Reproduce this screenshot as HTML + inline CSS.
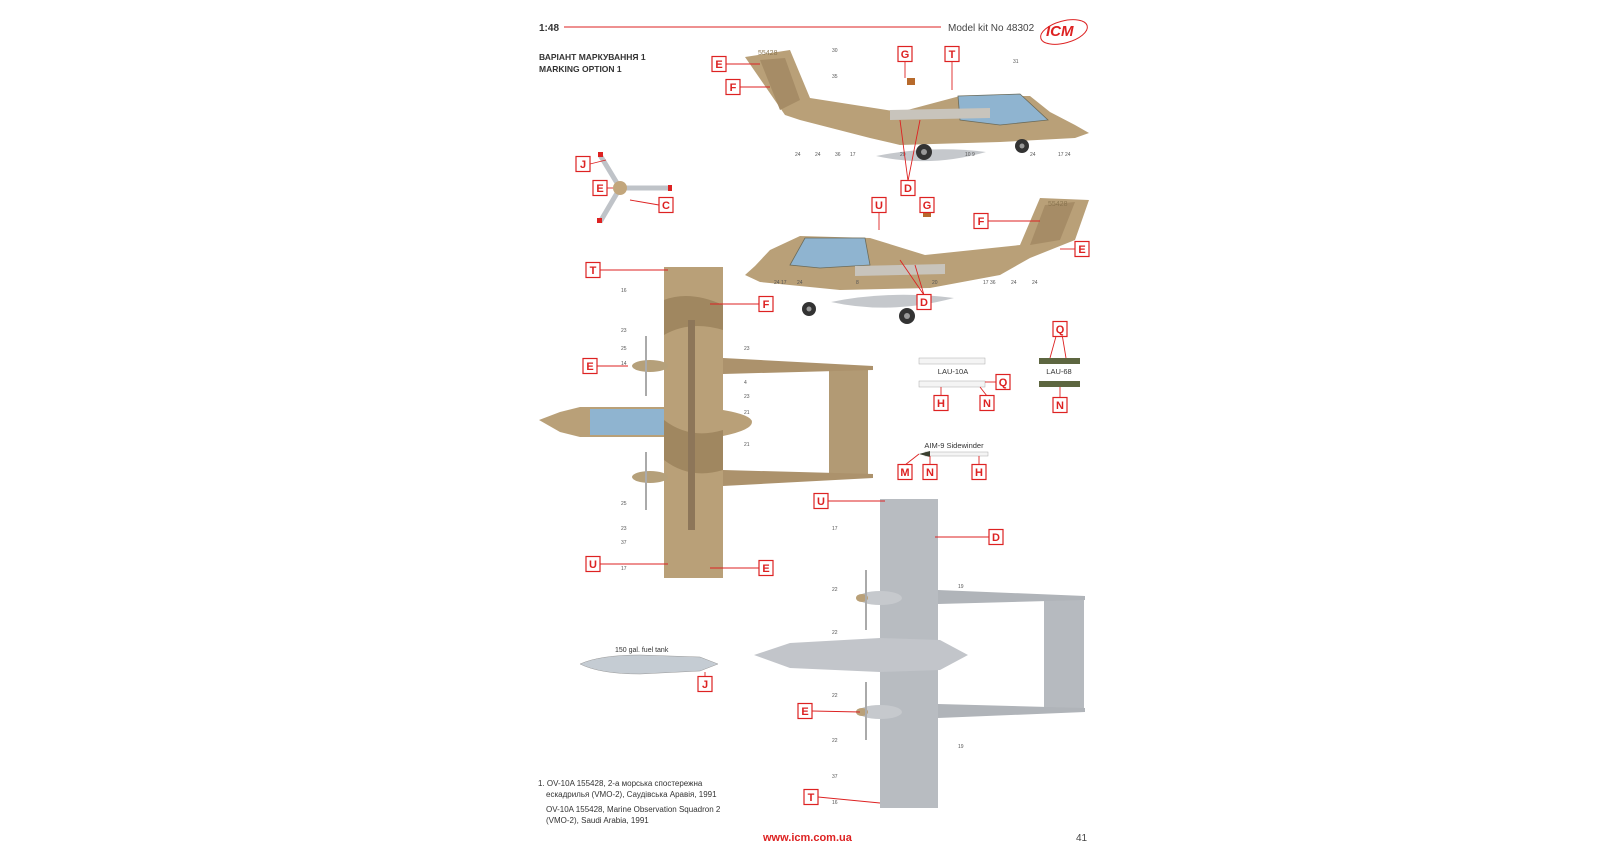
<!DOCTYPE html>
<html><head><meta charset="utf-8"><style>
html,body{margin:0;padding:0;background:#fff;}
svg{display:block;}
text{font-family:"Liberation Sans",sans-serif;}
.n{font-size:5px;fill:#555;}
.lb rect{fill:#fff;stroke:#d22;stroke-width:1.2;}
.lb text{fill:#d22;font-weight:bold;font-size:11px;text-anchor:middle;}
.ld{stroke:#d22;stroke-width:0.9;fill:none;}
</style></head><body>
<svg width="1620" height="851" viewBox="0 0 1620 851" xmlns="http://www.w3.org/2000/svg">
<!-- header -->
<text x="539" y="31" font-size="10" font-weight="bold" fill="#333">1:48</text>
<line x1="564" y1="27" x2="941" y2="27" stroke="#d22" stroke-width="1"/>
<text x="948" y="31" font-size="10" fill="#444">Model kit No 48302</text>
<ellipse cx="1064" cy="32" rx="24" ry="11" fill="none" stroke="#d22" stroke-width="1" transform="rotate(-15 1064 32)"/>
<text x="1046" y="36" font-size="15" font-weight="bold" font-style="italic" fill="#d22">ICM</text>
<text x="539" y="60" font-size="8.5" font-weight="bold" fill="#333">ВАРІАНТ МАРКУВАННЯ 1</text>
<text x="539" y="72" font-size="8.5" font-weight="bold" fill="#333">MARKING OPTION 1</text>

<!-- side view 1 (nose right) -->
<g>
<path d="M745,57 L790,50 L810,98 L900,112 L960,96 L1030,96 L1050,112 L1075,125 L1089,133 L1075,138 L1000,142 L900,145 L870,138 L800,120 L785,115 Z" fill="#b9a078"/>
<path d="M760,60 L785,58 L800,100 L780,110 Z" fill="#a68c66"/>
<path d="M958,96 L1020,94 L1048,120 L1000,125 L960,120 Z" fill="#8fb4d0" stroke="#6b6b5a" stroke-width="0.8"/>
<path d="M890,110 L990,108 L990,118 L890,120 Z" fill="#c8c4bc"/>
<path d="M876,156 Q930,145 986,152 Q930,168 876,156 Z" fill="#c5c8cc"/>
<rect x="907" y="78" width="8" height="7" fill="#b76a2c"/>
<circle cx="924" cy="152" r="8" fill="#333"/><circle cx="924" cy="152" r="3" fill="#999"/>
<circle cx="1022" cy="146" r="7" fill="#333"/><circle cx="1022" cy="146" r="2.5" fill="#999"/>
<text x="758" y="55" font-size="7" fill="#8a7550">55428</text>
</g>
<!-- side view 2 (nose left) -->
<g>
<path d="M1089,200 L1040,198 L1020,245 L925,255 L870,238 L800,236 L770,250 L755,266 L745,275 L760,282 L840,290 L930,288 L1000,275 L1030,258 L1075,240 Z" fill="#b9a078"/>
<path d="M1075,202 L1045,205 L1030,245 L1060,240 Z" fill="#a68c66"/>
<path d="M790,265 L805,238 L865,238 L870,265 L820,268 Z" fill="#8fb4d0" stroke="#6b6b5a" stroke-width="0.8"/>
<path d="M855,266 L945,264 L945,274 L855,276 Z" fill="#c8c4bc"/>
<path d="M831,302 Q890,290 954,298 Q890,315 831,302 Z" fill="#c5c8cc"/>
<rect x="923" y="210" width="8" height="7" fill="#b76a2c"/>
<circle cx="809" cy="309" r="7" fill="#333"/><circle cx="809" cy="309" r="2.5" fill="#999"/>
<circle cx="907" cy="316" r="8" fill="#333"/><circle cx="907" cy="316" r="3" fill="#999"/>
<text x="1048" y="206" font-size="7" fill="#8a7550">55428</text>
</g>
<!-- propeller -->
<g>
<line x1="620" y1="188" x2="600" y2="155" stroke="#bfc3c8" stroke-width="5"/>
<line x1="620" y1="188" x2="672" y2="188" stroke="#bfc3c8" stroke-width="5"/>
<line x1="620" y1="188" x2="600" y2="222" stroke="#bfc3c8" stroke-width="5"/>
<rect x="598" y="152" width="5" height="5" fill="#d22"/><rect x="668" y="185" width="4" height="6" fill="#d22"/><rect x="597" y="218" width="5" height="5" fill="#d22"/>
<circle cx="620" cy="188" r="7" fill="#c2a67c"/>
</g>

<!-- top view desert -->
<g>
<path d="M829,366 L868,366 L868,478 L829,478 Z" fill="#b29a74"/>
<path d="M723,358 L873,366 L873,370 L723,374 Z" fill="#ac926c"/>
<path d="M723,470 L873,474 L873,478 L723,486 Z" fill="#ac926c"/>
<rect x="664" y="267" width="59" height="311" fill="#b9a078"/>
<path d="M664,300 Q690,290 723,305 L723,330 Q690,320 664,335 Z" fill="#a08760"/>
<path d="M664,420 Q690,440 723,430 L723,470 Q690,480 664,460 Z" fill="#a08760"/>
<rect x="688" y="320" width="7" height="210" fill="#8d7659"/>
<path d="M539,420 L560,412 L580,407 L664,407 L664,437 L580,437 L560,432 Z" fill="#b9a078"/>
<rect x="590" y="409" width="74" height="26" fill="#8fb4d0"/>
<path d="M723,410 Q752,415 752,422 Q752,430 723,436 Z" fill="#b9a078"/>
<ellipse cx="650" cy="366" rx="18" ry="6" fill="#b5a07a"/>
<ellipse cx="650" cy="477" rx="18" ry="6" fill="#b5a07a"/>
<line x1="646" y1="336" x2="646" y2="396" stroke="#aaa" stroke-width="2"/>
<line x1="646" y1="452" x2="646" y2="510" stroke="#aaa" stroke-width="2"/>
</g>

<!-- gray underside -->
<g>
<path d="M1044,596 L1084,596 L1084,711 L1044,711 Z" fill="#b6babf"/>
<path d="M938,590 L1085,596 L1085,600 L938,604 Z" fill="#b0b4b9"/>
<path d="M938,704 L1085,708 L1085,712 L938,718 Z" fill="#b0b4b9"/>
<rect x="880" y="499" width="58" height="309" fill="#b8bcc1"/>
<path d="M754,655 L790,643 L880,638 L940,640 L968,655 L940,670 L880,672 L790,668 Z" fill="#c2c5ca"/>
<ellipse cx="880" cy="598" rx="22" ry="7" fill="#c6c9cd"/>
<ellipse cx="880" cy="712" rx="22" ry="7" fill="#c6c9cd"/>
<ellipse cx="862" cy="598" rx="6" ry="4" fill="#b9a078"/>
<ellipse cx="862" cy="712" rx="6" ry="4" fill="#b9a078"/>
<line x1="866" y1="570" x2="866" y2="630" stroke="#aaa" stroke-width="2"/>
<line x1="866" y1="682" x2="866" y2="740" stroke="#aaa" stroke-width="2"/>
</g>

<!-- weapons -->
<text x="953" y="374" font-size="7.5" fill="#333" text-anchor="middle">LAU-10A</text>
<rect x="919" y="358" width="66" height="6" fill="#f4f4f4" stroke="#aaa" stroke-width="0.5"/>
<rect x="919" y="381" width="66" height="6" fill="#f4f4f4" stroke="#aaa" stroke-width="0.5"/>
<text x="1059" y="374" font-size="7.5" fill="#333" text-anchor="middle">LAU-68</text>
<rect x="1039" y="358" width="41" height="6" fill="#5d6640"/>
<rect x="1039" y="381" width="41" height="6" fill="#5d6640"/>
<text x="954" y="448" font-size="7.5" fill="#333" text-anchor="middle">AIM-9 Sidewinder</text>
<rect x="925" y="452" width="63" height="4" fill="#f4f4f4" stroke="#aaa" stroke-width="0.5"/>
<path d="M919,454 L930,451 L930,457 Z" fill="#3a4030"/>

<!-- fuel tank -->
<text x="615" y="652" font-size="7" fill="#333">150 gal. fuel tank</text>
<path d="M580,664 Q600,655 640,655 L700,657 L718,664 L700,671 L640,674 Q600,674 580,664 Z" fill="#c5ccd3" stroke="#999" stroke-width="0.5"/>

<g class="n">
<text x="832" y="52">30</text><text x="832" y="78">35</text><text x="1013" y="63">31</text>
<text x="795" y="156">24</text><text x="815" y="156">24</text><text x="835" y="156">36</text><text x="850" y="156">17</text>
<text x="900" y="156">20</text><text x="965" y="156">10 9</text><text x="1030" y="156">24</text><text x="1058" y="156">17 24</text>
<text x="774" y="284">24 17</text><text x="797" y="284">24</text><text x="856" y="284">8</text><text x="932" y="284">20</text>
<text x="983" y="284">17 36</text><text x="1011" y="284">24</text><text x="1032" y="284">24</text>
<text x="621" y="292">16</text><text x="621" y="332">23</text><text x="621" y="350">25</text><text x="621" y="365">14</text>
<text x="744" y="350">23</text><text x="744" y="384">4</text><text x="744" y="398">23</text><text x="744" y="414">21</text><text x="744" y="446">21</text>
<text x="621" y="505">25</text><text x="621" y="530">23</text><text x="621" y="544">37</text><text x="621" y="570">17</text>
<text x="832" y="530">17</text><text x="832" y="591">22</text><text x="832" y="634">22</text><text x="832" y="697">22</text><text x="832" y="742">22</text>
<text x="958" y="588">19</text><text x="958" y="748">19</text><text x="832" y="778">37</text><text x="832" y="804">16</text>
</g>

<g class="ld">
<path d="M726,64 L760,64"/><path d="M740,87 L770,87"/><path d="M905,61 L905,78"/><path d="M952,61 L952,90"/>
<path d="M908,181 L920,120 M908,181 L900,120"/><path d="M590,164 L606,160"/><path d="M607,188 L613,188"/><path d="M659,205 L630,200"/>
<path d="M879,212 L879,230"/><path d="M988,221 L1040,221"/><path d="M1075,249 L1060,249"/>
<path d="M924,295 L900,260 M924,295 L915,265"/>
<path d="M600,270 L668,270"/><path d="M759,304 L710,304"/><path d="M597,366 L628,366"/><path d="M600,564 L668,564"/><path d="M759,568 L710,568"/>
<path d="M828,501 L885,501"/><path d="M989,537 L935,537"/><path d="M812,711 L860,712"/><path d="M818,797 L880,803"/>
<path d="M996,382 L985,382"/><path d="M1060,322 L1050,358 M1060,322 L1066,358"/><path d="M1060,398 L1060,387"/>
<path d="M941,396 L941,387"/><path d="M987,396 L980,387"/>
<path d="M905,465 L919,454"/><path d="M930,465 L930,456"/><path d="M979,465 L979,456"/><path d="M705,677 L705,672"/>
</g>
<g class="lb">
<g transform="translate(719,64)"><rect x="-7" y="-7.5" width="14" height="15"/><text y="4">E</text></g>
<g transform="translate(733,87)"><rect x="-7" y="-7.5" width="14" height="15"/><text y="4">F</text></g>
<g transform="translate(905,54)"><rect x="-7" y="-7.5" width="14" height="15"/><text y="4">G</text></g>
<g transform="translate(952,54)"><rect x="-7" y="-7.5" width="14" height="15"/><text y="4">T</text></g>
<g transform="translate(908,188)"><rect x="-7" y="-7.5" width="14" height="15"/><text y="4">D</text></g>
<g transform="translate(583,164)"><rect x="-7" y="-7.5" width="14" height="15"/><text y="4">J</text></g>
<g transform="translate(600,188)"><rect x="-7" y="-7.5" width="14" height="15"/><text y="4">E</text></g>
<g transform="translate(666,205)"><rect x="-7" y="-7.5" width="14" height="15"/><text y="4">C</text></g>
<g transform="translate(879,205)"><rect x="-7" y="-7.5" width="14" height="15"/><text y="4">U</text></g>
<g transform="translate(927,205)"><rect x="-7" y="-7.5" width="14" height="15"/><text y="4">G</text></g>
<g transform="translate(981,221)"><rect x="-7" y="-7.5" width="14" height="15"/><text y="4">F</text></g>
<g transform="translate(1082,249)"><rect x="-7" y="-7.5" width="14" height="15"/><text y="4">E</text></g>
<g transform="translate(924,302)"><rect x="-7" y="-7.5" width="14" height="15"/><text y="4">D</text></g>
<g transform="translate(593,270)"><rect x="-7" y="-7.5" width="14" height="15"/><text y="4">T</text></g>
<g transform="translate(766,304)"><rect x="-7" y="-7.5" width="14" height="15"/><text y="4">F</text></g>
<g transform="translate(590,366)"><rect x="-7" y="-7.5" width="14" height="15"/><text y="4">E</text></g>
<g transform="translate(593,564)"><rect x="-7" y="-7.5" width="14" height="15"/><text y="4">U</text></g>
<g transform="translate(766,568)"><rect x="-7" y="-7.5" width="14" height="15"/><text y="4">E</text></g>
<g transform="translate(821,501)"><rect x="-7" y="-7.5" width="14" height="15"/><text y="4">U</text></g>
<g transform="translate(996,537)"><rect x="-7" y="-7.5" width="14" height="15"/><text y="4">D</text></g>
<g transform="translate(805,711)"><rect x="-7" y="-7.5" width="14" height="15"/><text y="4">E</text></g>
<g transform="translate(811,797)"><rect x="-7" y="-7.5" width="14" height="15"/><text y="4">T</text></g>
<g transform="translate(1003,382)"><rect x="-7" y="-7.5" width="14" height="15"/><text y="4">Q</text></g>
<g transform="translate(1060,329)"><rect x="-7" y="-7.5" width="14" height="15"/><text y="4">Q</text></g>
<g transform="translate(1060,405)"><rect x="-7" y="-7.5" width="14" height="15"/><text y="4">N</text></g>
<g transform="translate(941,403)"><rect x="-7" y="-7.5" width="14" height="15"/><text y="4">H</text></g>
<g transform="translate(987,403)"><rect x="-7" y="-7.5" width="14" height="15"/><text y="4">N</text></g>
<g transform="translate(905,472)"><rect x="-7" y="-7.5" width="14" height="15"/><text y="4">M</text></g>
<g transform="translate(930,472)"><rect x="-7" y="-7.5" width="14" height="15"/><text y="4">N</text></g>
<g transform="translate(979,472)"><rect x="-7" y="-7.5" width="14" height="15"/><text y="4">H</text></g>
<g transform="translate(705,684)"><rect x="-7" y="-7.5" width="14" height="15"/><text y="4">J</text></g>
</g>

<text x="538" y="786" font-size="8" fill="#333">1. OV-10A 155428, 2-а морська спостережна</text>
<text x="546" y="797" font-size="8" fill="#333">ескадрилья (VMO-2), Саудівська Аравія, 1991</text>
<text x="546" y="812" font-size="8" fill="#333">OV-10A  155428, Marine Observation Squadron 2</text>
<text x="546" y="823" font-size="8" fill="#333">(VMO-2), Saudi Arabia, 1991</text>
<text x="763" y="841" font-size="11" font-weight="bold" fill="#d22">www.icm.com.ua</text>
<text x="1076" y="841" font-size="10" fill="#444">41</text>
</svg>
</body></html>
